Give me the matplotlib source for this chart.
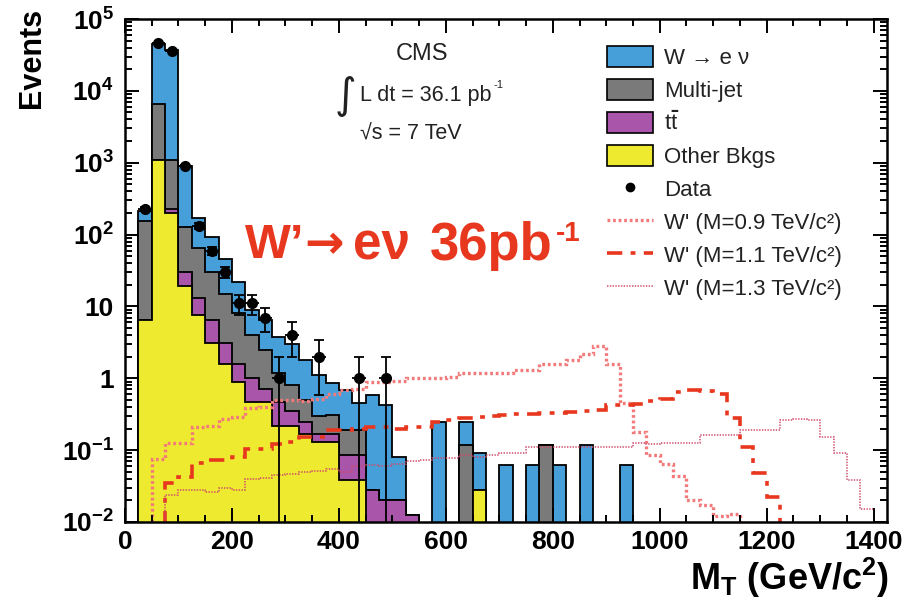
import numpy as np
import matplotlib
matplotlib.use('Agg')
import matplotlib.pyplot as plt
from matplotlib.patches import Patch
from matplotlib.lines import Line2D
from matplotlib.ticker import LogLocator, MultipleLocator, NullFormatter

plt.rcParams['font.family'] = ['Liberation Sans', 'DejaVu Sans']
plt.rcParams['mathtext.fontset'] = 'custom'
plt.rcParams['mathtext.rm'] = 'Liberation Sans:bold'
plt.rcParams['mathtext.it'] = 'Liberation Sans'
plt.rcParams['mathtext.bf'] = 'Liberation Sans:bold'
plt.rcParams['lines.scale_dashes'] = False

bin_width = 25
edges = np.arange(0, 1425 + bin_width, bin_width)
n_bins = len(edges) - 1

# backgrounds, events per 25 GeV bin (bins start at 0)
w_enu = [0, 60, 38400, 35600, 784, 104, 62, 30, 14, 5.0, 3.9, 2.6, 2.2, 1.3, 0.8, 0.54,
         0.49, 0.26, 0.55, 0.40, 0.06, 0, 0, 0.247, 0, 0.13, 0.062, 0, 0.062, 0, 0.062,
         0, 0.062, 0, 0.117, 0, 0, 0.062]
multijet = [0, 149, 5500, 872, 96, 53, 23.6, 11.9, 6.4, 3.0, 1.8, 0.73, 0.45, 0.25, 0.13,
            0.14, 0.105, 0.105, 0, 0, 0, 0, 0, 0, 0, 0.117, 0, 0, 0, 0, 0, 0.117]
ttbar = [0, 0, 0, 30, 10.5, 5.5, 3.3, 1.5, 0.7, 0.53, 0.23, 0.25, 0.13, 0.08, 0.04, 0.04,
         0.047, 0.047, 0.028, 0.02, 0.02, 0.0125]
other_bkg = [0, 6.4, 1100, 198, 19.5, 7.5, 3.1, 1.6, 0.9, 0.47, 0.47, 0.22, 0.22, 0.17,
             0.13, 0.13, 0.038, 0.038, 0, 0, 0, 0, 0, 0, 0, 0, 0.028]

data_counts = [0, 230, 46000, 36000, 900, 133, 60, 30, 11, 11, 7, 1, 4, 0, 2, 0, 0, 1, 0, 1]

# W' signal shapes
wprime_09 = [0, 0, 0.075, 0.125, 0.125, 0.21, 0.22, 0.27, 0.29, 0.38, 0.40, 0.50, 0.50,
             0.48, 0.52, 0.60, 0.68, 0.70, 0.88, 0.90, 0.92, 1.0, 1.0, 1.0, 1.05, 1.2,
             1.2, 1.2, 1.2, 1.3, 1.3, 1.6, 1.6, 1.8, 2.2, 2.8, 1.6, 0.45, 0.18, 0.085,
             0.065, 0.043, 0.02, 0.017, 0.012, 0.013]
wprime_11 = [0, 0, 0, 0.035, 0.042, 0.066, 0.072, 0.072, 0.08, 0.105, 0.105, 0.12, 0.13,
             0.15, 0.15, 0.19, 0.19, 0.20, 0.21, 0.21, 0.20, 0.21, 0.21, 0.25, 0.26, 0.28,
             0.29, 0.30, 0.31, 0.32, 0.32, 0.33, 0.33, 0.34, 0.35, 0.36, 0.42, 0.42, 0.44,
             0.49, 0.52, 0.64, 0.68, 0.66, 0.60, 0.28, 0.11, 0.048, 0.022]
wprime_13 = [0, 0, 0, 0.024, 0.028, 0.028, 0.026, 0.03, 0.028, 0.04, 0.041, 0.045, 0.047,
             0.05, 0.052, 0.055, 0.05, 0.06, 0.062, 0.06, 0.065, 0.07, 0.072, 0.078, 0.078,
             0.085, 0.08, 0.085, 0.09, 0.09, 0.11, 0.11, 0.11, 0.11, 0.11, 0.11, 0.11, 0.11,
             0.125, 0.12, 0.125, 0.125, 0.125, 0.16, 0.16, 0.16, 0.19, 0.19, 0.19, 0.26,
             0.27, 0.26, 0.15, 0.09, 0.038, 0.015, 0.01]


def pad(values):
    return np.array(values + [0.0] * (n_bins - len(values)), dtype=float)


def fx(px):
    return px / 916


def fy(py):
    return 1 - py / 599


floor = 1e-4
c_w, c_mj, c_tt, c_other = '#479fd9', '#7a7a7a', '#a955a9', '#eeea2f'
red = '#e8371f'
ink = '#222222'

other_top = pad(other_bkg)
tt_top = other_top + pad(ttbar)
mj_top = tt_top + pad(multijet)
w_top = mj_top + pad(w_enu)

fig = plt.figure(figsize=(9.16, 5.99), dpi=100)
ax = fig.add_axes([fx(125), fy(522), 762 / 916, 503 / 599])

# stacked backgrounds, largest first so each layer sits on top
for top, col in [(w_top, c_w), (mj_top, c_mj), (tt_top, c_tt), (other_top, c_other)]:
    ax.stairs(np.where(top > 0, top, floor), edges, baseline=floor, fill=True,
              facecolor=col, edgecolor='black', linewidth=1.3)

sig_styles = [
    (wprime_09, dict(color='#f27a7a', linewidth=2.4, dashes=(2.0, 2.0))),
    (wprime_11, dict(color=red, linewidth=2.6, dashes=(11, 6, 3.5, 6))),
    (wprime_13, dict(color='#cf4a6a', linewidth=1.1, dashes=(1.0, 1.0))),
]
for sig, style in sig_styles:
    s = pad(sig)
    line = ax.stairs(np.where(s > 0, s, floor), edges, baseline=None, fill=False,
                     color=style['color'], linewidth=style['linewidth'])
    line.set_linestyle((0, style['dashes']))

# data with poisson errors
counts = pad(data_counts)
centers = 0.5 * (edges[:-1] + edges[1:])
has = counts > 0
n = counts[has]
err = np.sqrt(n)
lower = np.minimum(err, n - 1e-6)
ax.errorbar(centers[has], n, xerr=bin_width / 2, fmt='none', ecolor='black',
            elinewidth=1.3, capsize=0, zorder=5)
ax.errorbar(centers[has], n, yerr=[lower, err], fmt='o', color='black', ms=7,
            elinewidth=1.3, capsize=3.5, capthick=1.3, zorder=6)

ax.set_xlim(0, 1425)
ax.set_yscale('log')
ax.set_ylim(1e-2, 1e5)

ax.set_xticks(np.arange(0, 1401, 200))
ax.xaxis.set_minor_locator(MultipleLocator(50))
ytick_vals = [1e-2, 1e-1, 1, 10, 1e2, 1e3, 1e4, 1e5]
ytick_labs = [r'$10^{-2}$', r'$10^{-1}$', '1', '10', r'$10^{2}$', r'$10^{3}$',
              r'$10^{4}$', r'$10^{5}$']
ax.set_yticks(ytick_vals, ytick_labs)
ax.yaxis.set_minor_locator(LogLocator(base=10, subs=np.arange(2, 10), numticks=20))
ax.yaxis.set_minor_formatter(NullFormatter())

ax.tick_params(which='both', direction='in', top=True, right=True, width=1.4,
               labelsize=19)
ax.tick_params(which='major', length=10)
ax.tick_params(which='minor', length=5)
ax.tick_params(axis='x', pad=6)
ax.tick_params(axis='y', pad=8)
for lab in ax.get_xticklabels() + ax.get_yticklabels():
    lab.set_fontweight('bold')
for sp in ax.spines.values():
    sp.set_linewidth(1.8)

fig.text(fx(889), fy(590), r'M$_{\mathrm{T}}$ (GeV/c$^{2}$)', ha='right',
         va='baseline', fontsize=26, fontweight='bold')
fig.text(fx(32), fy(8), 'Events', rotation=90, ha='center', va='top',
         fontsize=22, fontweight='bold')

# CMS luminosity block
fig.text(fx(422), fy(54), 'CMS', ha='center', va='center', fontsize=17, color=ink)
fig.text(fx(345), fy(96), '∫', ha='center', va='center', fontsize=30,
         family='DejaVu Sans', color=ink)
fig.text(fx(360), fy(95), 'L dt = 36.1 pb', ha='left', va='center',
         fontsize=15.5, color=ink)
fig.text(fx(494), fy(85), '-1', ha='left', va='center', fontsize=8, color=ink)
fig.text(fx(360), fy(134), '√s = 7 TeV', ha='left', va='center',
         fontsize=15.5, color=ink)

# channel tag, set piece by piece
fig.text(fx(245), fy(246), 'W’', ha='left', va='center', fontsize=35,
         fontweight='bold', color=red)
fig.text(fx(304), fy(246), '→', ha='left', va='center', fontsize=34,
         fontweight='bold', family='DejaVu Sans', color=red)
fig.text(fx(353), fy(246), 'eν', ha='left', va='center', fontsize=37,
         fontweight='bold', color=red)
fig.text(fx(430), fy(246), '36pb', ha='left', va='center', fontsize=38,
         fontweight='bold', color=red)
fig.text(fx(556), fy(234), '-1', ha='left', va='center', fontsize=20,
         fontweight='bold', color=red)

handles = [
    Patch(facecolor=c_w, edgecolor='black', linewidth=1.2, label='W → e ν'),
    Patch(facecolor=c_mj, edgecolor='black', linewidth=1.2, label='Multi-jet'),
    Patch(facecolor=c_tt, edgecolor='black', linewidth=1.2, label=r'$t\bar{t}$'),
    Patch(facecolor=c_other, edgecolor='black', linewidth=1.2, label='Other Bkgs'),
    Line2D([], [], marker='o', color='black', linestyle='none', ms=6, label='Data'),
]
sig_labels = ["W' (M=0.9 TeV/c²)", "W' (M=1.1 TeV/c²)", "W' (M=1.3 TeV/c²)"]
for (sig, style), lab in zip(sig_styles, sig_labels):
    handles.append(Line2D([], [], color=style['color'], linewidth=style['linewidth'],
                          dashes=style['dashes'], label=lab))

ax.legend(handles=handles, loc='upper left', bbox_to_anchor=(0.6325, 0.947),
          frameon=False, fontsize=16, handlelength=2.05, handleheight=1.08,
          labelspacing=0.44, handletextpad=0.5, borderpad=0, borderaxespad=0,
          labelcolor=ink)

fig.savefig('out.png', dpi=100)
